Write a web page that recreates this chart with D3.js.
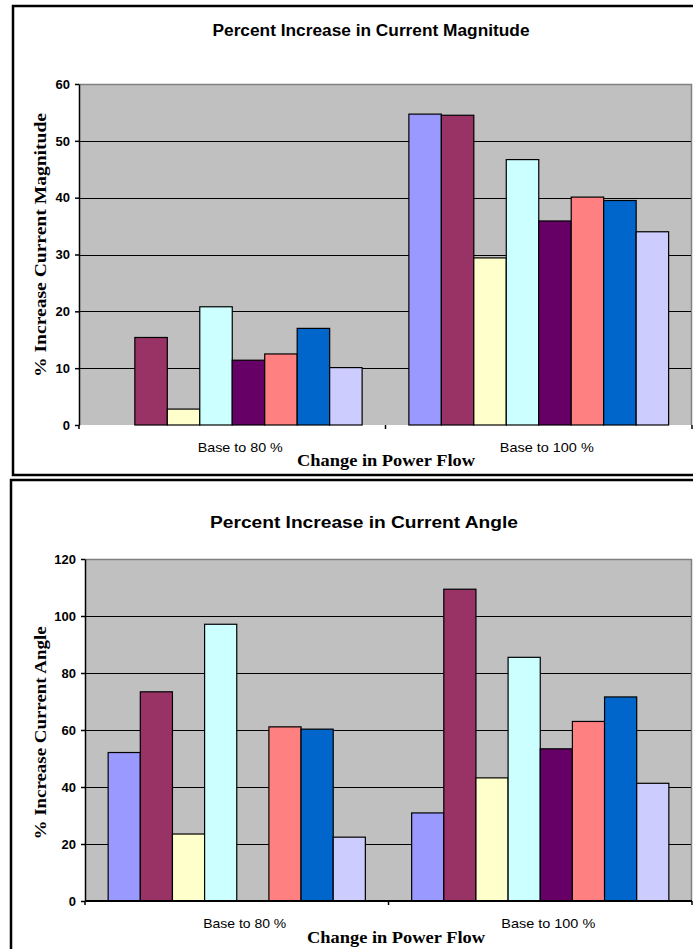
<!DOCTYPE html>
<html>
<head>
<meta charset="utf-8">
<script src="https://cdn.jsdelivr.net/npm/d3@7/dist/d3.min.js"></script>
<style>
  html, body { margin: 0; padding: 0; background: #ffffff; }
  svg { display: block; }
</style>
</head>
<body>
<svg id="chart" width="693" height="949"></svg>
<script>
// Categories shared by both charts
const categories = ["Base to 80 %", "Base to 100 %"];

// Eight series per category (null = no bar)
const magnitudeValues = [
  [null, 15.4, 2.8, 20.8, 11.4, 12.5, 17.0, 10.1],
  [54.7, 54.5, 29.4, 46.7, 35.9, 40.1, 39.5, 34.0]
];
const angleValues = [
  [52.1, 73.4, 23.5, 97.1, null, 61.1, 60.3, 22.4],
  [30.9, 109.4, 43.2, 85.5, 53.4, 63.0, 71.6, 41.3]
];

// Tick labels
const magnitudeTicks = [0, 10, 20, 30, 40, 50, 60];
const angleTicks = [0, 20, 40, 60, 80, 100, 120];

// Series fill colours
const seriesColors = ["#9999FF", "#993366", "#FFFFCC", "#CCFFFF", "#660066", "#FF8080", "#0066CC", "#CCCCFF"];

const svg = d3.select("#chart");
const SANS = "Liberation Sans, Arial, sans-serif";
const SERIF = "Liberation Serif, Times New Roman, serif";

function drawChart(opts) {
  const g = svg.append("g");

  // outer frame
  g.append("rect")
    .attr("x", opts.frame.x).attr("y", opts.frame.y)
    .attr("width", opts.frame.w).attr("height", opts.frame.h)
    .attr("fill", "#fff").attr("stroke", "#000").attr("stroke-width", 2.5);

  const { left, right, top, bottom } = opts.plot;

  const y = d3.scaleLinear()
    .domain([0, d3.max(opts.ticks)])
    .range([bottom, top]);

  const x0 = d3.scaleBand()
    .domain(categories)
    .range([left, right])
    .paddingInner(0).paddingOuter(0);

  const x1 = d3.scaleBand()
    .domain(d3.range(seriesColors.length))
    .range([0, x0.bandwidth()])
    .paddingInner(0).paddingOuter(0.72);

  // plot background
  g.append("rect")
    .attr("x", left).attr("y", top)
    .attr("width", right - left).attr("height", bottom - top)
    .attr("fill", "#C0C0C0");
  // grey border top & right
  g.append("path")
    .attr("d", `M${left},${top + 0.5}H${right - 0.5}V${bottom}`)
    .attr("fill", "none").attr("stroke", "#808080").attr("stroke-width", 1.5);

  // gridlines
  g.append("g")
    .selectAll("line")
    .data(opts.ticks.filter(t => t > 0 && t < d3.max(opts.ticks)))
    .join("line")
    .attr("x1", left).attr("x2", right - 1)
    .attr("y1", d => Math.round(y(d)) + 0.5).attr("y2", d => Math.round(y(d)) + 0.5)
    .attr("stroke", "#000").attr("stroke-width", 1);

  // bars
  const groups = g.append("g")
    .selectAll("g")
    .data(opts.values.map((vals, i) => ({ cat: categories[i], vals })))
    .join("g")
    .attr("transform", d => `translate(${x0(d.cat)},0)`);

  groups.selectAll("rect")
    .data(d => d.vals.map((v, j) => ({ v, j })).filter(d => d.v != null))
    .join("rect")
    .attr("x", d => x1(d.j))
    .attr("y", d => y(d.v))
    .attr("width", x1.bandwidth())
    .attr("height", d => bottom - y(d.v))
    .attr("fill", d => seriesColors[d.j])
    .attr("stroke", "#000").attr("stroke-width", 1.2);

  // y axis
  const yAxis = d3.axisLeft(y).tickValues(opts.ticks).tickSize(4).tickSizeOuter(0).tickPadding(5);
  const ya = g.append("g").attr("transform", `translate(${left},0)`).call(yAxis);
  ya.select(".domain").attr("stroke", "#000").attr("stroke-width", 1.5);
  ya.selectAll(".tick line").attr("stroke", "#000").attr("stroke-width", 1.5);
  ya.selectAll(".tick text")
    .attr("font-family", SANS)
    .attr("font-weight", "bold").attr("font-size", 13).attr("fill", "#000");

  // x axis (category ticks at boundaries)
  const xa = g.append("g");
  if (opts.xAxisLine) {
    xa.append("line")
      .attr("x1", left).attr("x2", right)
      .attr("y1", bottom).attr("y2", bottom)
      .attr("stroke", "#000").attr("stroke-width", 2);
  }
  const boundaries = categories.map(c => x0(c)).concat([x0(categories[categories.length - 1]) + x0.bandwidth()]);
  xa.selectAll("line.tk")
    .data(boundaries)
    .join("line").attr("class", "tk")
    .attr("x1", d => d).attr("x2", d => d)
    .attr("y1", bottom).attr("y2", bottom + 4)
    .attr("stroke", "#000").attr("stroke-width", 1.5);
  xa.selectAll("text")
    .data(categories)
    .join("text")
    .attr("x", d => x0(d) + x0.bandwidth() / 2 + 8)
    .attr("y", bottom + 27)
    .attr("text-anchor", "middle")
    .attr("font-family", SANS)
    .attr("font-size", 13)
    .attr("textLength", (d, i) => opts.catLengths[i])
    .attr("lengthAdjust", "spacingAndGlyphs")
    .attr("fill", "#000")
    .text(d => d);

  // chart title
  g.append("text")
    .attr("x", opts.titleX).attr("y", opts.titleY)
    .attr("text-anchor", "middle")
    .attr("font-family", SANS)
    .attr("font-weight", "bold").attr("font-size", 16)
    .attr("textLength", opts.titleLength)
    .attr("lengthAdjust", "spacingAndGlyphs")
    .attr("fill", "#000")
    .text(opts.title);

  // x axis title
  g.append("text")
    .attr("x", opts.xTitleX).attr("y", opts.xTitleY)
    .attr("text-anchor", "middle")
    .attr("font-family", SERIF)
    .attr("font-weight", "bold").attr("font-size", 16)
    .attr("textLength", 178)
    .attr("lengthAdjust", "spacingAndGlyphs")
    .attr("fill", "#000")
    .text("Change in Power Flow");

  // y axis title
  g.append("text")
    .attr("transform", `translate(${opts.yTitleX},${opts.yTitleY}) rotate(-90)`)
    .attr("text-anchor", "middle")
    .attr("font-family", SERIF)
    .attr("font-weight", "bold").attr("font-size", 16)
    .attr("textLength", opts.yTitleLength)
    .attr("lengthAdjust", "spacingAndGlyphs")
    .attr("fill", "#000")
    .text(opts.yTitle);
}

drawChart({
  frame: { x: 13, y: 6, w: 700, h: 469 },
  plot: { left: 79, right: 692, top: 84, bottom: 425 },
  values: magnitudeValues,
  ticks: magnitudeTicks,
  xAxisLine: false,
  catLengths: [85, 94],
  title: "Percent Increase in Current Magnitude",
  titleX: 371, titleY: 36, titleLength: 317,
  xTitleX: 386, xTitleY: 466,
  yTitle: "% Increase Current Magnitude",
  yTitleX: 46, yTitleY: 245, yTitleLength: 264
});

drawChart({
  frame: { x: 11, y: 480, w: 700, h: 480 },
  plot: { left: 85, right: 692, top: 559, bottom: 901 },
  values: angleValues,
  ticks: angleTicks,
  xAxisLine: true,
  catLengths: [83, 94],
  title: "Percent Increase in Current Angle",
  titleX: 364, titleY: 528, titleLength: 308,
  xTitleX: 396, xTitleY: 943,
  yTitle: "% Increase Current Angle",
  yTitleX: 46, yTitleY: 733, yTitleLength: 213
});
</script>
</body>
</html>
